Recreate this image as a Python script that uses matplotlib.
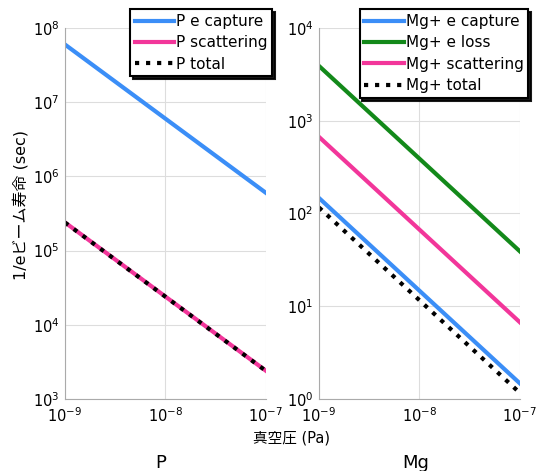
import numpy as np
import matplotlib
matplotlib.use('Agg')
import matplotlib.pyplot as plt
from matplotlib.ticker import NullLocator

plt.rcParams['font.family'] = ['DejaVu Sans', 'Noto Sans CJK JP']
plt.rcParams['mathtext.fontset'] = 'dejavusans'

pressure = [1e-9, 1e-7]
x_ticks = [1e-9, 1e-8, 1e-7]
p_ticks = [1e3, 1e4, 1e5, 1e6, 1e7, 1e8]
mg_ticks = [1e0, 1e1, 1e2, 1e3, 1e4]

# P beam lifetimes (sec)
p_capture = [6.0e7, 6.0e5]
p_scatter = [2.4e5, 2.4e3]
p_total = [2.39e5, 2.39e3]

# Mg+ beam lifetimes (sec)
mg_capture = [1.47e2, 1.47]
mg_loss = [3.9e3, 3.9e1]
mg_scatter = [6.7e2, 6.7]
mg_total = [1.16e2, 1.16]

BLUE = '#3b8ef7'
PINK = '#f2369a'
GREEN = '#13891a'

fig = plt.figure(figsize=(5.36, 4.71), dpi=100)
ax1 = fig.add_axes([0.121, 0.153, 0.375, 0.7876])
ax2 = fig.add_axes([0.595, 0.153, 0.375, 0.7876])

ax1.plot(pressure, p_capture, color=BLUE, lw=3, label='P e capture')
ax1.plot(pressure, p_scatter, color=PINK, lw=3, label='P scattering')
ax1.plot(pressure, p_total, color='black', lw=3, ls=':', label='P total')

ax2.plot(pressure, mg_capture, color=BLUE, lw=3, label='Mg+ e capture')
ax2.plot(pressure, mg_loss, color=GREEN, lw=3, label='Mg+ e loss')
ax2.plot(pressure, mg_scatter, color=PINK, lw=3, label='Mg+ scattering')
ax2.plot(pressure, mg_total, color='black', lw=3, ls=':', label='Mg+ total')

for ax, yt, anchor in [(ax1, p_ticks, (1.03, 1.05)),
                       (ax2, mg_ticks, (1.04, 1.05))]:
    ax.set_xscale('log')
    ax.set_yscale('log')
    ax.set_xlim(x_ticks[0], x_ticks[-1])
    ax.set_ylim(yt[0], yt[-1])
    ax.set_xticks(x_ticks)
    ax.set_yticks(yt)
    ax.xaxis.set_minor_locator(NullLocator())
    ax.yaxis.set_minor_locator(NullLocator())
    ax.grid(True, color='#dddddd', lw=0.8)
    ax.set_axisbelow(True)
    for s in ['top', 'right']:
        ax.spines[s].set_visible(False)
    for s in ['left', 'bottom']:
        ax.spines[s].set_color('#aaaaaa')
    ax.tick_params(length=0, labelsize=10.5, pad=4)
    ax.tick_params(axis='x', pad=5)
    leg = ax.legend(loc='upper right', bbox_to_anchor=anchor, fontsize=11,
                    fancybox=False, shadow={'color': 'black', 'alpha': 0.9},
                    edgecolor='black', framealpha=1, handlelength=2.6,
                    handletextpad=0.1, borderpad=0.3, labelspacing=0.42,
                    borderaxespad=0)
    leg.get_frame().set_linewidth(1.5)

fig.text(0.039, 0.565, '1/eビーム寿命 (sec)', rotation=90, ha='center',
         va='center', fontsize=11.5)
fig.text(0.543, 0.07, '真空圧 (Pa)', ha='center', va='center', fontsize=10.5)
fig.text(0.30, 0.018, 'P', ha='center', va='center', fontsize=13)
fig.text(0.775, 0.018, 'Mg', ha='center', va='center', fontsize=13)

fig.savefig('out.png', dpi=100)
